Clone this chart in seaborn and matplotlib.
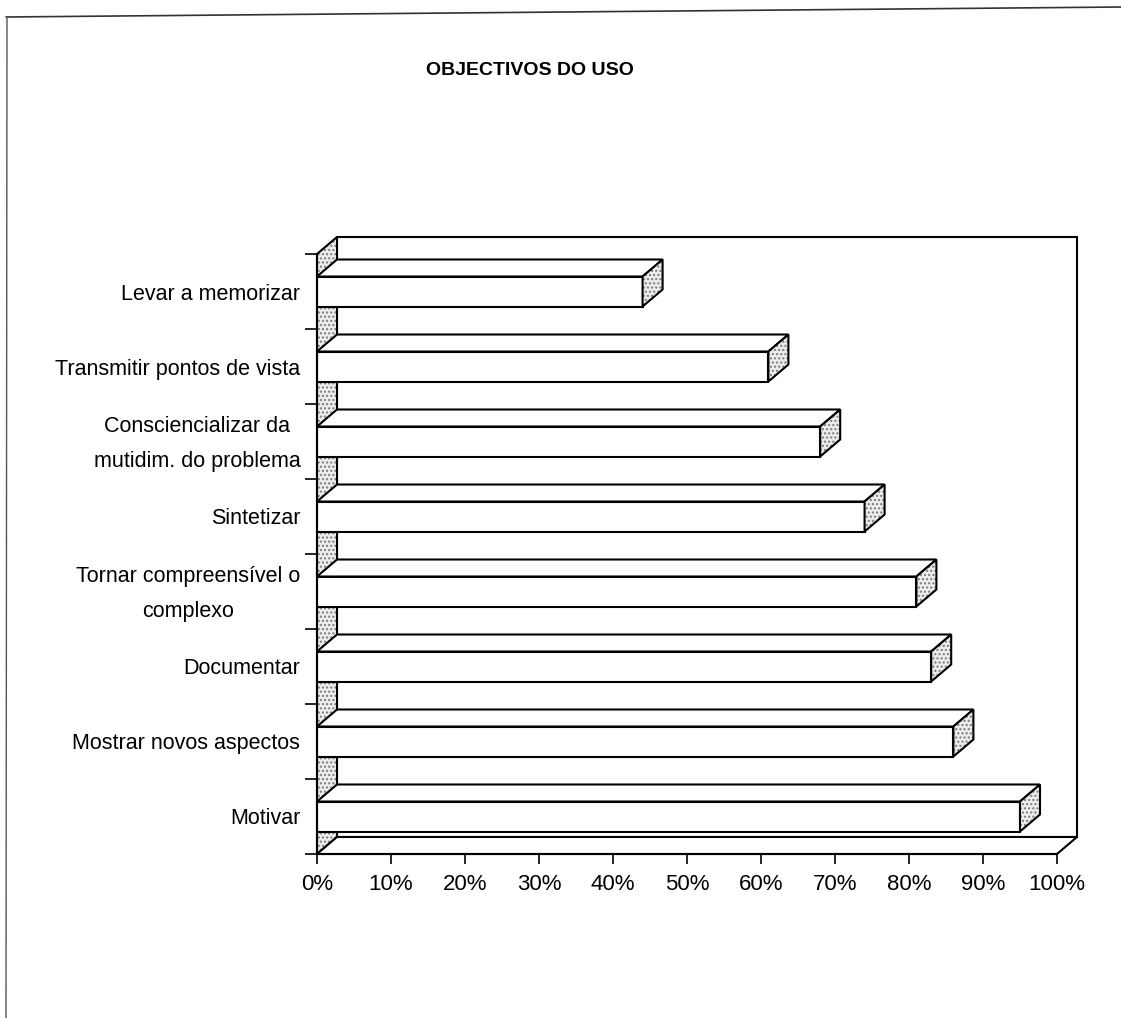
import matplotlib
matplotlib.use("Agg")
import matplotlib.pyplot as plt
import matplotlib.transforms as mtransforms
from matplotlib.patches import Polygon, Rectangle
from matplotlib.lines import Line2D
import seaborn as sns
import pandas as pd

# Survey answers: share of respondents per objective (%)
categories = [
    "Levar a memorizar",
    "Transmitir pontos de vista",
    "Consciencializar da\nmutidim. do problema",
    "Sintetizar",
    "Tornar compreensível o\ncomplexo",
    "Documentar",
    "Mostrar novos aspectos",
    "Motivar",
]
values = [44, 61, 68, 74, 81, 83, 86, 95]
x_ticks = [0, 10, 20, 30, 40, 50, 60, 70, 80, 90, 100]
x_tick_labels = [f"{t}%" for t in x_ticks]
title = "OBJECTIVOS DO USO"

sns.set_style("white")
plt.rcParams["font.family"] = ["Liberation Sans", "DejaVu Sans"]
plt.rcParams["text.color"] = "black"
plt.rcParams["xtick.color"] = "black"
plt.rcParams["ytick.color"] = "black"
plt.rcParams["xtick.labelcolor"] = "black"
plt.rcParams["ytick.labelcolor"] = "black"

W, H = 1121, 1018
fig = plt.figure(figsize=(W / 100, H / 100), dpi=100)
ax = fig.add_axes([317 / W, 1 - 854 / H, 740 / W, 600 / H])

df = pd.DataFrame({"objetivo": categories, "valor": values})
sns.barplot(data=df, x="valor", y="objetivo", orient="h", color="white",
            saturation=1, edgecolor="black", linewidth=1.5, width=0.4, ax=ax)
bars = [p for p in ax.patches if isinstance(p, Rectangle)]

n = len(categories)
ax.set_xlim(0, 100)
ax.set_ylim(n - 0.5, -0.5)

# depth of the pseudo-3D box in data units (20 px right, 17 px up)
DX = 100 * 20 / 740
DY = n * 17 / 600

stipple = dict(facecolor="#ececec", edgecolor="#7a7a7a", hatch="....",
               linewidth=0, clip_on=False)
outline = dict(facecolor="none", edgecolor="black", linewidth=1.5, clip_on=False)

# back wall
ax.add_patch(Rectangle((DX, -0.5 - DY), 100, n, facecolor="white",
                       edgecolor="black", linewidth=1.5, zorder=0.2, clip_on=False))
# left wall
lw_pts = [(0, n - 0.5), (DX, n - 0.5 - DY), (DX, -0.5 - DY), (0, -0.5)]
ax.add_patch(Polygon(lw_pts, zorder=0.3, **stipple))
ax.add_patch(Polygon(lw_pts, zorder=0.35, **outline))
# floor
ax.add_patch(Polygon([(0, n - 0.5), (100, n - 0.5), (100 + DX, n - 0.5 - DY),
                      (DX, n - 0.5 - DY)], facecolor="white", edgecolor="black",
                     linewidth=1.5, zorder=0.4, clip_on=False))

# give each bar a top face and a shaded end face
for bar in bars:
    x0, y0 = bar.get_x(), bar.get_y()
    w, h = bar.get_width(), bar.get_height()
    bar.set_zorder(3)
    top = [(x0, y0), (x0 + w, y0), (x0 + w + DX, y0 - DY), (x0 + DX, y0 - DY)]
    ax.add_patch(Polygon(top, facecolor="white", edgecolor="black",
                         linewidth=1.5, zorder=3, clip_on=False))
    side = [(x0 + w, y0), (x0 + w, y0 + h), (x0 + w + DX, y0 + h - DY),
            (x0 + w + DX, y0 - DY)]
    ax.add_patch(Polygon(side, zorder=3, **stipple))
    ax.add_patch(Polygon(side, zorder=3.1, **outline))

# axes styling
for s in ("top", "right"):
    ax.spines[s].set_visible(False)
for s in ("left", "bottom"):
    ax.spines[s].set_color("black")
    ax.spines[s].set_linewidth(1.5)
    ax.spines[s].set_zorder(4)

ax.set_xlabel("")
ax.set_ylabel("")
ax.set_xticks(x_ticks)
ax.set_xticklabels(x_tick_labels, fontsize=16)
ax.tick_params(axis="x", direction="out", length=7.5, width=1.2, color="black",
               pad=7, bottom=True)
ax.set_yticks(range(n))
ax.set_yticklabels(categories, fontsize=15.5, multialignment="center",
                   linespacing=1.9)
ax.tick_params(axis="y", which="major", length=0, pad=12, left=True)
ax.set_yticks([i - 0.5 for i in range(n + 1)], minor=True)
ax.tick_params(axis="y", which="minor", direction="out", length=9, width=1.2,
               color="black", left=True)
ax.patch.set_visible(False)

# nudge two-line category labels up so they sit centred on their bars
lift = mtransforms.ScaledTranslation(0, 0.07, fig.dpi_scale_trans)
for lab in ax.get_yticklabels():
    if "\n" in lab.get_text():
        lab.set_transform(lab.get_transform() + lift)

fig.text(530 / W, 1 - 75 / H, title, ha="center", va="baseline",
         fontsize=14, fontweight="bold", color="black")

# page border around the chart
fig.add_artist(Line2D([6 / W, 1.0], [1 - 17 / H, 1 - 7 / H], color="#333333",
                      linewidth=1.2, transform=fig.transFigure))
fig.add_artist(Line2D([7 / W, 6 / W], [1 - 17 / H, 0.0], color="#555555",
                      linewidth=1.0, transform=fig.transFigure))

fig.savefig("out.png", dpi=100, facecolor="white")
